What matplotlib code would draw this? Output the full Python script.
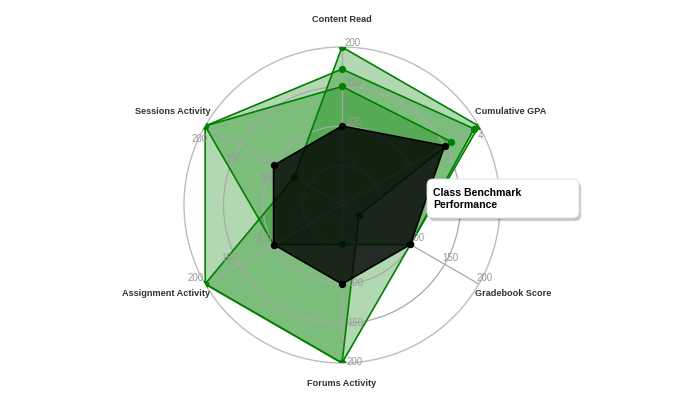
import numpy as np
import matplotlib.pyplot as plt
from matplotlib.patches import FancyBboxPatch
from matplotlib.transforms import IdentityTransform

plt.rcParams['font.family'] = ['Liberation Sans', 'DejaVu Sans']

categories = ['Content Read', 'Cumulative GPA', 'Gradebook Score',
              'Forums Activity', 'Assignment Activity', 'Sessions Activity']
axis_max = [200, 4, 200, 200, 200, 200]

student_a = [200, 4.0, 100, 200, 200, 70]
student_b = [150, 3.2, 25, 200, 200, 200]
student_c = [172, 3.86, 100, 50, 100, 200]
benchmark = [100, 3.0, 100, 100, 100, 100]
green_series = [student_a, student_b, student_c]

# tick label offsets (pixels) per spoke, and axis-title offsets / alignment
tick_off = [(11, 4), (2, -10), (6, 6), (13, 1), (-10, 6), (-6, -13)]
title_off = [(0, 27, 'center'), (-4, 14, 'left'), (-4, -10, 'left'),
             (0, -20, 'center'), (5, -10, 'right'), (5, 14, 'right')]

n = len(categories)
theta = np.arange(n) * 2 * np.pi / n
theta_c = np.append(theta, theta[0])


def norm(vals):
    r = np.array(vals, dtype=float) / np.array(axis_max, dtype=float)
    return np.append(r, r[0])


fig = plt.figure(figsize=(7, 4), dpi=100)
ax = fig.add_axes([184 / 700, 37 / 400, 316 / 700, 316 / 400], projection='polar')
ax.set_theta_zero_location('N')
ax.set_theta_direction(-1)
ax.set_ylim(0, 1)
ax.set_xticks(theta)
ax.set_xticklabels([])
ax.set_yticks([0.25, 0.5, 0.75])
ax.set_yticklabels([])
ax.grid(color='#a8a8a8', lw=0.9)
ax.spines['polar'].set_color('#bdbdbd')
ax.spines['polar'].set_linewidth(1.0)
ax.set_facecolor('none')

for s in green_series:
    ax.fill(theta_c, norm(s), color='green', alpha=0.3, lw=0)
for s in green_series:
    ax.plot(theta_c, norm(s), color='green', lw=1.2)
    ax.scatter(theta, norm(s)[:-1], s=18, color='green', zorder=5)

ax.fill(theta_c, norm(benchmark), color='black', alpha=0.8, lw=0, zorder=6)
ax.plot(theta_c, norm(benchmark), color='black', lw=1.2, zorder=7)
ax.scatter(theta, norm(benchmark)[:-1], s=18, color='black', zorder=8)

# per-axis tick labels
for i in range(n):
    for k in range(5):
        val = axis_max[i] * k / 4
        txt = '%g' % val
        ax.annotate(txt, (theta[i], k / 4), xytext=tick_off[i], textcoords='offset pixels',
                    ha='center', va='center', fontsize=7, color='#999999',
                    annotation_clip=False, zorder=4)

# axis titles
for i, name in enumerate(categories):
    dx, dy, ha = title_off[i]
    ax.annotate(name, (theta[i], 1), xytext=(dx, dy), textcoords='offset pixels',
                ha=ha, va='center', fontsize=6.6, fontweight='bold', color='#333333',
                annotation_clip=False)

# tooltip
for j, a in enumerate([0.06, 0.08, 0.12]):
    sh = FancyBboxPatch((427 + 1 + j * 0.7, 182 - 2 - j * 0.7), 152, 39,
                        boxstyle='round,pad=0,rounding_size=6',
                        transform=IdentityTransform(), facecolor='black',
                        edgecolor='none', alpha=a, zorder=20)
    fig.add_artist(sh)
box = FancyBboxPatch((427, 182), 152, 39, boxstyle='round,pad=0,rounding_size=6',
                     transform=IdentityTransform(), facecolor='white',
                     edgecolor='#dddddd', lw=0.6, zorder=21)
fig.add_artist(box)
fig.text(433 / 700, 1 - 199 / 400, 'Class Benchmark\nPerformance', ha='left', va='center',
         fontsize=7.6, fontweight='bold', color='black', linespacing=1.3, zorder=22)

fig.savefig('out.png', dpi=100)
